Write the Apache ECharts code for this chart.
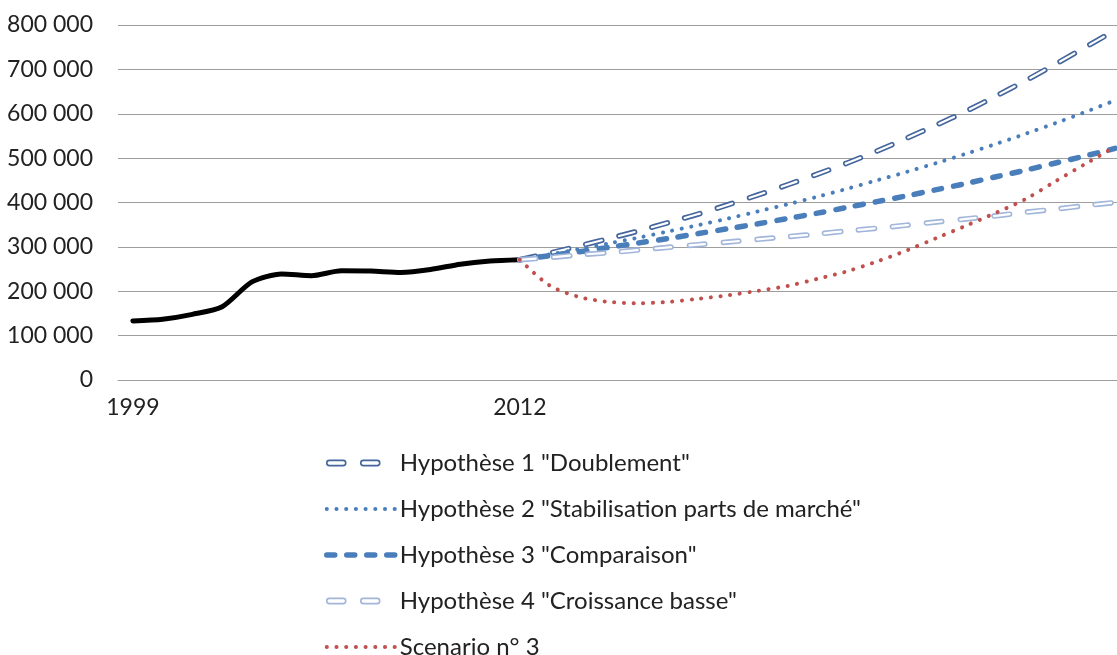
<!DOCTYPE html>
<html>
<head>
<meta charset="utf-8">
<script src="https://cdn.jsdelivr.net/npm/echarts@6/dist/echarts.min.js"></script>
<style>
html,body{margin:0;padding:0;background:#fff;}
#chart{width:1117px;height:655px;}
</style>
</head>
<body>
<div id="chart"></div>
<script>
// ---- data ----
const years = [];
for (let y = 1999; y <= 2032; y++) years.push(String(y));
const tickLabels = ['1999', '2012'];

const history = [133000, 137000, 148000, 165000, 221000, 239000, 235000, 246000, 245500, 242500, 249000, 261000, 268000, 271000];
// projections 2012 -> 2032
const hyp1 = [271000, 286000, 302000, 319000, 336000, 355000, 374000, 395000, 417000, 440000, 464000, 489000, 516000, 545000, 575000, 606000, 640000, 675000, 712000, 750000, 788000];
const hyp2 = [271000, 283000, 295000, 308000, 321000, 335000, 349000, 364000, 380000, 396000, 413000, 431000, 450000, 469000, 489000, 510000, 532000, 555000, 579000, 604000, 630000];
const hyp3 = [271000, 280000, 289000, 299000, 309000, 319000, 330000, 341000, 352000, 364000, 376000, 389000, 402000, 415000, 429000, 443000, 458000, 473000, 489000, 505000, 522000];
const hyp4 = [271000, 276000, 282000, 287000, 293000, 299000, 305000, 311000, 317000, 323000, 329000, 336000, 342000, 349000, 356000, 363000, 370000, 378000, 385000, 393000, 400000];
const scen3 = [271000, 213000, 187000, 176000, 173000, 176000, 183000, 191000, 201000, 212000, 228000, 245000, 267000, 292000, 320000, 348000, 377000, 408000, 448000, 487000, 525000];

const names = [
  'Hypothèse 1 "Doublement"',
  'Hypothèse 2 "Stabilisation parts de marché"',
  'Hypothèse 3 "Comparaison"',
  'Hypothèse 4 "Croissance basse"',
  'Scenario n° 3'
];

// ---- build ----
const startIdx = years.indexOf('2012');
function proj(arr) { return new Array(startIdx).fill(null).concat(arr); }

const C1 = '#44669d', C2 = '#4a7ebb', C4 = '#a2b6da', CR = '#c0504d';
const dashIconPath = 'path://M0 0M68 8' +
  'M2.6 1.4L16.4 1.4A2.6 2.6 0 0 1 16.4 6.6L2.6 6.6A2.6 2.6 0 0 1 2.6 1.4Z' +
  'M36.6 1.4L50.4 1.4A2.6 2.6 0 0 1 50.4 6.6L36.6 6.6A2.6 2.6 0 0 1 36.6 1.4Z';

const font = 'Lato, "Open Sans", sans-serif';
const chart = echarts.init(document.getElementById('chart'), null, {renderer: 'canvas'});

function line(name, data, color, width, dash, extra) {
  return Object.assign({
    name: name, type: 'line', data: data, symbol: 'none', smooth: 0.3,
    connectNulls: false, silent: true,
    lineStyle: {color: color, width: width, type: dash, cap: 'round', join: 'round'},
    itemStyle: {color: color}
  }, extra || {});
}

chart.setOption({
  animation: false,
  backgroundColor: '#fff',
  grid: {left: 118, top: 25, width: 1012, height: 355, containLabel: false, outerBoundsMode: 'none'},
  xAxis: {
    type: 'category', data: years, boundaryGap: true,
    axisLine: {show: true, lineStyle: {color: '#9e9e9e', width: 1}},
    axisTick: {show: false},
    axisLabel: {
      interval: 0, margin: 16, color: '#222', fontFamily: font, fontSize: 23,
      formatter: function (v) { return tickLabels.indexOf(v) >= 0 ? v : ''; }
    },
    splitLine: {show: false}
  },
  yAxis: {
    type: 'value', min: 0, max: 800000, interval: 100000,
    axisLine: {show: false}, axisTick: {show: false},
    axisLabel: {
      margin: 25, color: '#222', fontFamily: font, fontSize: 23,
      formatter: function (v) { return String(v).replace(/\B(?=(\d{3})+(?!\d))/g, ' '); }
    },
    splitLine: {show: true, lineStyle: {color: '#9e9e9e', width: 1}}
  },
  legend: {
    orient: 'vertical', left: 324, top: 451, height: 260, padding: 0,
    itemWidth: 68, itemHeight: 8, itemGap: 22,
    textStyle: {color: '#222', fontFamily: font, fontSize: 24},
    lineStyle: {width: 'inherit'},
    selectedMode: false,
    data: [
      {name: names[0], icon: dashIconPath, itemStyle: {color: '#fff', borderColor: C1, borderWidth: 1.6, opacity: 1}},
      {name: names[1], itemStyle: {opacity: 0}},
      {name: names[2], itemStyle: {opacity: 0}},
      {name: names[3], icon: dashIconPath, itemStyle: {color: '#fff', borderColor: C4, borderWidth: 1.6, opacity: 1}},
      {name: names[4], itemStyle: {opacity: 0}}
    ]
  },
  series: [
    line('Historique', history, '#000', 5, 'solid', {smooth: 0.25}),
    line(names[0], proj(hyp1), C1, 5.5, [16, 18]),
    line('h1-inner', proj(hyp1), '#ffffff', 2.2, [16, 18]),
    line(names[1], proj(hyp2), C2, 4, [0.1, 9.6]),
    line(names[2], proj(hyp3), C2, 5.5, [8, 12]),
    line(names[3], proj(hyp4), C4, 5.5, [16, 18]),
    line('h4-inner', proj(hyp4), '#ffffff', 2.2, [16, 18]),
    line(names[4], proj(scen3), CR, 4, [0.1, 9.6])
  ]
});
</script>
</body>
</html>
